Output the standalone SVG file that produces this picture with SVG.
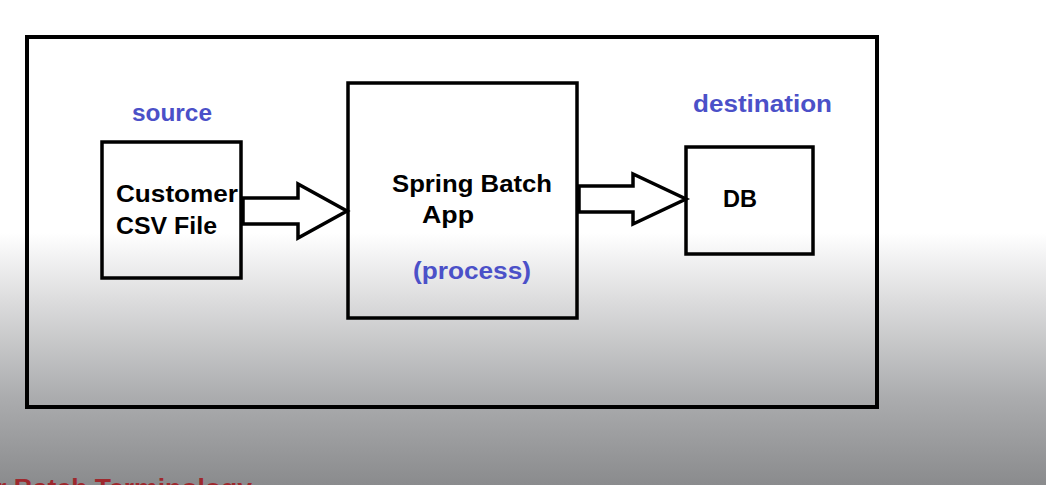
<svg xmlns="http://www.w3.org/2000/svg" width="1046" height="485" viewBox="0 0 1046 485">
<defs>
<linearGradient id="bg" x1="0" y1="0" x2="0" y2="1">
<stop offset="0" stop-color="#ffffff"/>
<stop offset="0.48" stop-color="#ffffff"/>
<stop offset="0.62" stop-color="#dcdcdd"/>
<stop offset="0.82" stop-color="#abacae"/>
<stop offset="1" stop-color="#8a8b8d"/>
</linearGradient>
<style>
.box{fill:none;stroke:#000;stroke-width:3.5}
.arrow{fill:none;stroke:#000;stroke-width:3.5;stroke-linejoin:miter}
.t{font-family:"Liberation Sans",Arial,sans-serif;font-weight:bold;font-size:23px;fill:#000}
.b{font-family:"Liberation Sans",Arial,sans-serif;font-weight:bold;font-size:23px;fill:#4b50c8}
.red{font-family:"Liberation Sans",Arial,sans-serif;font-weight:bold;font-size:26px;fill:#9e282d}
</style>
</defs>
<rect x="0" y="0" width="1046" height="485" fill="url(#bg)"/>
<rect x="27" y="37" width="850" height="370" fill="none" stroke="#000" stroke-width="4"/>
<g id="source">
<text class="b" x="132" y="121" textLength="80" lengthAdjust="spacingAndGlyphs">source</text>
<rect class="box" x="102" y="142" width="139" height="136"/>
<text class="t" x="116" y="202" textLength="122" lengthAdjust="spacingAndGlyphs">Customer</text>
<text class="t" x="116" y="234" textLength="101" lengthAdjust="spacingAndGlyphs">CSV File</text>
</g>
<g id="app">
<rect class="box" x="348" y="83" width="229" height="235"/>
<text class="t" x="392" y="192" textLength="160" lengthAdjust="spacingAndGlyphs">Spring Batch</text>
<text class="t" x="422" y="223" textLength="52" lengthAdjust="spacingAndGlyphs">App</text>
<text class="b" x="413" y="279" textLength="118" lengthAdjust="spacingAndGlyphs">(process)</text>
</g>
<g id="db">
<text class="b" x="693" y="112" textLength="139" lengthAdjust="spacingAndGlyphs">destination</text>
<rect class="box" x="686" y="147" width="127" height="107"/>
<text class="t" x="723" y="207" textLength="34" lengthAdjust="spacingAndGlyphs">DB</text>
</g>
<g id="connectors">
<path class="arrow" d="M243,198 L298,198 L298,184 L347,211 L298,238 L298,224 L243,224 Z" fill="#fff"/>
<path class="arrow" d="M579,186 L633,186 L633,174 L686,199 L633,224 L633,212 L579,212 Z" fill="#fff"/>
</g>
<text class="red" x="-4" y="497" textLength="256" lengthAdjust="spacingAndGlyphs">r Batch Terminology</text>
</svg>
